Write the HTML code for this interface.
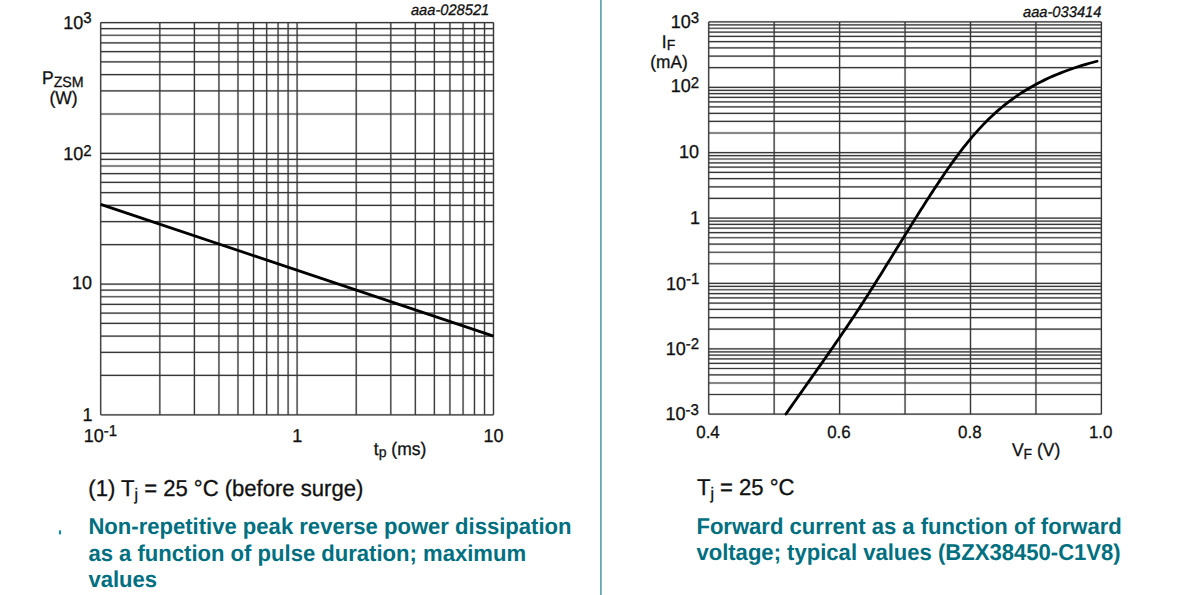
<!DOCTYPE html>
<html lang="en"><head><meta charset="utf-8"><title>Graphs</title>
<style>
html,body{margin:0;padding:0;background:#fff;}
body{width:1200px;height:595px;position:relative;overflow:hidden;font-family:"Liberation Sans",Arial,sans-serif;}
svg{position:absolute;left:0;top:0;display:block;}
</style></head><body>
<svg text-rendering="geometricPrecision" width="1200" height="595" viewBox="0 0 1200 595">
<g fill="none">
<line x1="100.70" y1="22.60" x2="100.70" y2="414.80" stroke="#383838" stroke-opacity="0.2" stroke-width="2.3"/>
<line x1="100.70" y1="22.60" x2="100.70" y2="414.80" stroke="#383838" stroke-width="1.2"/>
<line x1="159.82" y1="22.60" x2="159.82" y2="414.80" stroke="#383838" stroke-opacity="0.2" stroke-width="2.3"/>
<line x1="159.82" y1="22.60" x2="159.82" y2="414.80" stroke="#383838" stroke-width="1.2"/>
<line x1="194.41" y1="22.60" x2="194.41" y2="414.80" stroke="#383838" stroke-opacity="0.2" stroke-width="2.3"/>
<line x1="194.41" y1="22.60" x2="194.41" y2="414.80" stroke="#383838" stroke-width="1.2"/>
<line x1="218.94" y1="22.60" x2="218.94" y2="414.80" stroke="#383838" stroke-opacity="0.2" stroke-width="2.3"/>
<line x1="218.94" y1="22.60" x2="218.94" y2="414.80" stroke="#383838" stroke-width="1.2"/>
<line x1="237.98" y1="22.60" x2="237.98" y2="414.80" stroke="#383838" stroke-opacity="0.2" stroke-width="2.3"/>
<line x1="237.98" y1="22.60" x2="237.98" y2="414.80" stroke="#383838" stroke-width="1.2"/>
<line x1="253.53" y1="22.60" x2="253.53" y2="414.80" stroke="#383838" stroke-opacity="0.2" stroke-width="2.3"/>
<line x1="253.53" y1="22.60" x2="253.53" y2="414.80" stroke="#383838" stroke-width="1.2"/>
<line x1="266.68" y1="22.60" x2="266.68" y2="414.80" stroke="#383838" stroke-opacity="0.2" stroke-width="2.3"/>
<line x1="266.68" y1="22.60" x2="266.68" y2="414.80" stroke="#383838" stroke-width="1.2"/>
<line x1="278.07" y1="22.60" x2="278.07" y2="414.80" stroke="#383838" stroke-opacity="0.2" stroke-width="2.3"/>
<line x1="278.07" y1="22.60" x2="278.07" y2="414.80" stroke="#383838" stroke-width="1.2"/>
<line x1="288.11" y1="22.60" x2="288.11" y2="414.80" stroke="#383838" stroke-opacity="0.2" stroke-width="2.3"/>
<line x1="288.11" y1="22.60" x2="288.11" y2="414.80" stroke="#383838" stroke-width="1.2"/>
<line x1="297.10" y1="22.60" x2="297.10" y2="414.80" stroke="#383838" stroke-opacity="0.2" stroke-width="2.3"/>
<line x1="297.10" y1="22.60" x2="297.10" y2="414.80" stroke="#383838" stroke-width="1.2"/>
<line x1="356.22" y1="22.60" x2="356.22" y2="414.80" stroke="#383838" stroke-opacity="0.2" stroke-width="2.3"/>
<line x1="356.22" y1="22.60" x2="356.22" y2="414.80" stroke="#383838" stroke-width="1.2"/>
<line x1="390.81" y1="22.60" x2="390.81" y2="414.80" stroke="#383838" stroke-opacity="0.2" stroke-width="2.3"/>
<line x1="390.81" y1="22.60" x2="390.81" y2="414.80" stroke="#383838" stroke-width="1.2"/>
<line x1="415.34" y1="22.60" x2="415.34" y2="414.80" stroke="#383838" stroke-opacity="0.2" stroke-width="2.3"/>
<line x1="415.34" y1="22.60" x2="415.34" y2="414.80" stroke="#383838" stroke-width="1.2"/>
<line x1="434.38" y1="22.60" x2="434.38" y2="414.80" stroke="#383838" stroke-opacity="0.2" stroke-width="2.3"/>
<line x1="434.38" y1="22.60" x2="434.38" y2="414.80" stroke="#383838" stroke-width="1.2"/>
<line x1="449.93" y1="22.60" x2="449.93" y2="414.80" stroke="#383838" stroke-opacity="0.2" stroke-width="2.3"/>
<line x1="449.93" y1="22.60" x2="449.93" y2="414.80" stroke="#383838" stroke-width="1.2"/>
<line x1="463.08" y1="22.60" x2="463.08" y2="414.80" stroke="#383838" stroke-opacity="0.2" stroke-width="2.3"/>
<line x1="463.08" y1="22.60" x2="463.08" y2="414.80" stroke="#383838" stroke-width="1.2"/>
<line x1="474.47" y1="22.60" x2="474.47" y2="414.80" stroke="#383838" stroke-opacity="0.2" stroke-width="2.3"/>
<line x1="474.47" y1="22.60" x2="474.47" y2="414.80" stroke="#383838" stroke-width="1.2"/>
<line x1="484.51" y1="22.60" x2="484.51" y2="414.80" stroke="#383838" stroke-opacity="0.2" stroke-width="2.3"/>
<line x1="484.51" y1="22.60" x2="484.51" y2="414.80" stroke="#383838" stroke-width="1.2"/>
<line x1="493.50" y1="22.60" x2="493.50" y2="414.80" stroke="#383838" stroke-opacity="0.2" stroke-width="2.3"/>
<line x1="493.50" y1="22.60" x2="493.50" y2="414.80" stroke="#383838" stroke-width="1.2"/>
<line x1="100.70" y1="414.80" x2="493.50" y2="414.80" stroke="#383838" stroke-opacity="0.2" stroke-width="2.3"/>
<line x1="100.70" y1="414.80" x2="493.50" y2="414.80" stroke="#383838" stroke-width="1.2"/>
<line x1="100.70" y1="375.45" x2="493.50" y2="375.45" stroke="#383838" stroke-opacity="0.2" stroke-width="2.3"/>
<line x1="100.70" y1="375.45" x2="493.50" y2="375.45" stroke="#383838" stroke-width="1.2"/>
<line x1="100.70" y1="352.42" x2="493.50" y2="352.42" stroke="#383838" stroke-opacity="0.2" stroke-width="2.3"/>
<line x1="100.70" y1="352.42" x2="493.50" y2="352.42" stroke="#383838" stroke-width="1.2"/>
<line x1="100.70" y1="336.09" x2="493.50" y2="336.09" stroke="#383838" stroke-opacity="0.2" stroke-width="2.3"/>
<line x1="100.70" y1="336.09" x2="493.50" y2="336.09" stroke="#383838" stroke-width="1.2"/>
<line x1="100.70" y1="323.42" x2="493.50" y2="323.42" stroke="#383838" stroke-opacity="0.2" stroke-width="2.3"/>
<line x1="100.70" y1="323.42" x2="493.50" y2="323.42" stroke="#383838" stroke-width="1.2"/>
<line x1="100.70" y1="313.07" x2="493.50" y2="313.07" stroke="#383838" stroke-opacity="0.2" stroke-width="2.3"/>
<line x1="100.70" y1="313.07" x2="493.50" y2="313.07" stroke="#383838" stroke-width="1.2"/>
<line x1="100.70" y1="304.32" x2="493.50" y2="304.32" stroke="#383838" stroke-opacity="0.2" stroke-width="2.3"/>
<line x1="100.70" y1="304.32" x2="493.50" y2="304.32" stroke="#383838" stroke-width="1.2"/>
<line x1="100.70" y1="296.74" x2="493.50" y2="296.74" stroke="#383838" stroke-opacity="0.2" stroke-width="2.3"/>
<line x1="100.70" y1="296.74" x2="493.50" y2="296.74" stroke="#383838" stroke-width="1.2"/>
<line x1="100.70" y1="290.05" x2="493.50" y2="290.05" stroke="#383838" stroke-opacity="0.2" stroke-width="2.3"/>
<line x1="100.70" y1="290.05" x2="493.50" y2="290.05" stroke="#383838" stroke-width="1.2"/>
<line x1="100.70" y1="284.07" x2="493.50" y2="284.07" stroke="#383838" stroke-opacity="0.2" stroke-width="2.3"/>
<line x1="100.70" y1="284.07" x2="493.50" y2="284.07" stroke="#383838" stroke-width="1.2"/>
<line x1="100.70" y1="244.71" x2="493.50" y2="244.71" stroke="#383838" stroke-opacity="0.2" stroke-width="2.3"/>
<line x1="100.70" y1="244.71" x2="493.50" y2="244.71" stroke="#383838" stroke-width="1.2"/>
<line x1="100.70" y1="221.69" x2="493.50" y2="221.69" stroke="#383838" stroke-opacity="0.2" stroke-width="2.3"/>
<line x1="100.70" y1="221.69" x2="493.50" y2="221.69" stroke="#383838" stroke-width="1.2"/>
<line x1="100.70" y1="205.36" x2="493.50" y2="205.36" stroke="#383838" stroke-opacity="0.2" stroke-width="2.3"/>
<line x1="100.70" y1="205.36" x2="493.50" y2="205.36" stroke="#383838" stroke-width="1.2"/>
<line x1="100.70" y1="192.69" x2="493.50" y2="192.69" stroke="#383838" stroke-opacity="0.2" stroke-width="2.3"/>
<line x1="100.70" y1="192.69" x2="493.50" y2="192.69" stroke="#383838" stroke-width="1.2"/>
<line x1="100.70" y1="182.34" x2="493.50" y2="182.34" stroke="#383838" stroke-opacity="0.2" stroke-width="2.3"/>
<line x1="100.70" y1="182.34" x2="493.50" y2="182.34" stroke="#383838" stroke-width="1.2"/>
<line x1="100.70" y1="173.58" x2="493.50" y2="173.58" stroke="#383838" stroke-opacity="0.2" stroke-width="2.3"/>
<line x1="100.70" y1="173.58" x2="493.50" y2="173.58" stroke="#383838" stroke-width="1.2"/>
<line x1="100.70" y1="166.00" x2="493.50" y2="166.00" stroke="#383838" stroke-opacity="0.2" stroke-width="2.3"/>
<line x1="100.70" y1="166.00" x2="493.50" y2="166.00" stroke="#383838" stroke-width="1.2"/>
<line x1="100.70" y1="159.32" x2="493.50" y2="159.32" stroke="#383838" stroke-opacity="0.2" stroke-width="2.3"/>
<line x1="100.70" y1="159.32" x2="493.50" y2="159.32" stroke="#383838" stroke-width="1.2"/>
<line x1="100.70" y1="153.33" x2="493.50" y2="153.33" stroke="#383838" stroke-opacity="0.2" stroke-width="2.3"/>
<line x1="100.70" y1="153.33" x2="493.50" y2="153.33" stroke="#383838" stroke-width="1.2"/>
<line x1="100.70" y1="113.98" x2="493.50" y2="113.98" stroke="#383838" stroke-opacity="0.2" stroke-width="2.3"/>
<line x1="100.70" y1="113.98" x2="493.50" y2="113.98" stroke="#383838" stroke-width="1.2"/>
<line x1="100.70" y1="90.96" x2="493.50" y2="90.96" stroke="#383838" stroke-opacity="0.2" stroke-width="2.3"/>
<line x1="100.70" y1="90.96" x2="493.50" y2="90.96" stroke="#383838" stroke-width="1.2"/>
<line x1="100.70" y1="74.62" x2="493.50" y2="74.62" stroke="#383838" stroke-opacity="0.2" stroke-width="2.3"/>
<line x1="100.70" y1="74.62" x2="493.50" y2="74.62" stroke="#383838" stroke-width="1.2"/>
<line x1="100.70" y1="61.95" x2="493.50" y2="61.95" stroke="#383838" stroke-opacity="0.2" stroke-width="2.3"/>
<line x1="100.70" y1="61.95" x2="493.50" y2="61.95" stroke="#383838" stroke-width="1.2"/>
<line x1="100.70" y1="51.60" x2="493.50" y2="51.60" stroke="#383838" stroke-opacity="0.2" stroke-width="2.3"/>
<line x1="100.70" y1="51.60" x2="493.50" y2="51.60" stroke="#383838" stroke-width="1.2"/>
<line x1="100.70" y1="42.85" x2="493.50" y2="42.85" stroke="#383838" stroke-opacity="0.2" stroke-width="2.3"/>
<line x1="100.70" y1="42.85" x2="493.50" y2="42.85" stroke="#383838" stroke-width="1.2"/>
<line x1="100.70" y1="35.27" x2="493.50" y2="35.27" stroke="#383838" stroke-opacity="0.2" stroke-width="2.3"/>
<line x1="100.70" y1="35.27" x2="493.50" y2="35.27" stroke="#383838" stroke-width="1.2"/>
<line x1="100.70" y1="28.58" x2="493.50" y2="28.58" stroke="#383838" stroke-opacity="0.2" stroke-width="2.3"/>
<line x1="100.70" y1="28.58" x2="493.50" y2="28.58" stroke="#383838" stroke-width="1.2"/>
<line x1="100.70" y1="22.60" x2="493.50" y2="22.60" stroke="#383838" stroke-opacity="0.2" stroke-width="2.3"/>
<line x1="100.70" y1="22.60" x2="493.50" y2="22.60" stroke="#383838" stroke-width="1.2"/>
</g>
<line x1="100.70" y1="204.30" x2="493.50" y2="336.10" stroke="#000" stroke-width="2.8"/>
<g fill="none">
<line x1="708.70" y1="21.90" x2="708.70" y2="414.20" stroke="#383838" stroke-opacity="0.2" stroke-width="2.3"/>
<line x1="708.70" y1="21.90" x2="708.70" y2="414.20" stroke="#383838" stroke-width="1.2"/>
<line x1="774.15" y1="21.90" x2="774.15" y2="414.20" stroke="#383838" stroke-opacity="0.2" stroke-width="2.3"/>
<line x1="774.15" y1="21.90" x2="774.15" y2="414.20" stroke="#383838" stroke-width="1.2"/>
<line x1="839.60" y1="21.90" x2="839.60" y2="414.20" stroke="#383838" stroke-opacity="0.2" stroke-width="2.3"/>
<line x1="839.60" y1="21.90" x2="839.60" y2="414.20" stroke="#383838" stroke-width="1.2"/>
<line x1="905.05" y1="21.90" x2="905.05" y2="414.20" stroke="#383838" stroke-opacity="0.2" stroke-width="2.3"/>
<line x1="905.05" y1="21.90" x2="905.05" y2="414.20" stroke="#383838" stroke-width="1.2"/>
<line x1="970.50" y1="21.90" x2="970.50" y2="414.20" stroke="#383838" stroke-opacity="0.2" stroke-width="2.3"/>
<line x1="970.50" y1="21.90" x2="970.50" y2="414.20" stroke="#383838" stroke-width="1.2"/>
<line x1="1035.95" y1="21.90" x2="1035.95" y2="414.20" stroke="#383838" stroke-opacity="0.2" stroke-width="2.3"/>
<line x1="1035.95" y1="21.90" x2="1035.95" y2="414.20" stroke="#383838" stroke-width="1.2"/>
<line x1="1101.40" y1="21.90" x2="1101.40" y2="414.20" stroke="#383838" stroke-opacity="0.2" stroke-width="2.3"/>
<line x1="1101.40" y1="21.90" x2="1101.40" y2="414.20" stroke="#383838" stroke-width="1.2"/>
<line x1="708.70" y1="414.20" x2="1101.40" y2="414.20" stroke="#383838" stroke-opacity="0.2" stroke-width="2.3"/>
<line x1="708.70" y1="414.20" x2="1101.40" y2="414.20" stroke="#383838" stroke-width="1.2"/>
<line x1="708.70" y1="394.52" x2="1101.40" y2="394.52" stroke="#383838" stroke-opacity="0.2" stroke-width="2.3"/>
<line x1="708.70" y1="394.52" x2="1101.40" y2="394.52" stroke="#383838" stroke-width="1.2"/>
<line x1="708.70" y1="383.00" x2="1101.40" y2="383.00" stroke="#383838" stroke-opacity="0.2" stroke-width="2.3"/>
<line x1="708.70" y1="383.00" x2="1101.40" y2="383.00" stroke="#383838" stroke-width="1.2"/>
<line x1="708.70" y1="374.84" x2="1101.40" y2="374.84" stroke="#383838" stroke-opacity="0.2" stroke-width="2.3"/>
<line x1="708.70" y1="374.84" x2="1101.40" y2="374.84" stroke="#383838" stroke-width="1.2"/>
<line x1="708.70" y1="368.50" x2="1101.40" y2="368.50" stroke="#383838" stroke-opacity="0.2" stroke-width="2.3"/>
<line x1="708.70" y1="368.50" x2="1101.40" y2="368.50" stroke="#383838" stroke-width="1.2"/>
<line x1="708.70" y1="363.32" x2="1101.40" y2="363.32" stroke="#383838" stroke-opacity="0.2" stroke-width="2.3"/>
<line x1="708.70" y1="363.32" x2="1101.40" y2="363.32" stroke="#383838" stroke-width="1.2"/>
<line x1="708.70" y1="358.94" x2="1101.40" y2="358.94" stroke="#383838" stroke-opacity="0.2" stroke-width="2.3"/>
<line x1="708.70" y1="358.94" x2="1101.40" y2="358.94" stroke="#383838" stroke-width="1.2"/>
<line x1="708.70" y1="355.15" x2="1101.40" y2="355.15" stroke="#383838" stroke-opacity="0.2" stroke-width="2.3"/>
<line x1="708.70" y1="355.15" x2="1101.40" y2="355.15" stroke="#383838" stroke-width="1.2"/>
<line x1="708.70" y1="351.81" x2="1101.40" y2="351.81" stroke="#383838" stroke-opacity="0.2" stroke-width="2.3"/>
<line x1="708.70" y1="351.81" x2="1101.40" y2="351.81" stroke="#383838" stroke-width="1.2"/>
<line x1="708.70" y1="348.82" x2="1101.40" y2="348.82" stroke="#383838" stroke-opacity="0.2" stroke-width="2.3"/>
<line x1="708.70" y1="348.82" x2="1101.40" y2="348.82" stroke="#383838" stroke-width="1.2"/>
<line x1="708.70" y1="329.13" x2="1101.40" y2="329.13" stroke="#383838" stroke-opacity="0.2" stroke-width="2.3"/>
<line x1="708.70" y1="329.13" x2="1101.40" y2="329.13" stroke="#383838" stroke-width="1.2"/>
<line x1="708.70" y1="317.62" x2="1101.40" y2="317.62" stroke="#383838" stroke-opacity="0.2" stroke-width="2.3"/>
<line x1="708.70" y1="317.62" x2="1101.40" y2="317.62" stroke="#383838" stroke-width="1.2"/>
<line x1="708.70" y1="309.45" x2="1101.40" y2="309.45" stroke="#383838" stroke-opacity="0.2" stroke-width="2.3"/>
<line x1="708.70" y1="309.45" x2="1101.40" y2="309.45" stroke="#383838" stroke-width="1.2"/>
<line x1="708.70" y1="303.12" x2="1101.40" y2="303.12" stroke="#383838" stroke-opacity="0.2" stroke-width="2.3"/>
<line x1="708.70" y1="303.12" x2="1101.40" y2="303.12" stroke="#383838" stroke-width="1.2"/>
<line x1="708.70" y1="297.94" x2="1101.40" y2="297.94" stroke="#383838" stroke-opacity="0.2" stroke-width="2.3"/>
<line x1="708.70" y1="297.94" x2="1101.40" y2="297.94" stroke="#383838" stroke-width="1.2"/>
<line x1="708.70" y1="293.56" x2="1101.40" y2="293.56" stroke="#383838" stroke-opacity="0.2" stroke-width="2.3"/>
<line x1="708.70" y1="293.56" x2="1101.40" y2="293.56" stroke="#383838" stroke-width="1.2"/>
<line x1="708.70" y1="289.77" x2="1101.40" y2="289.77" stroke="#383838" stroke-opacity="0.2" stroke-width="2.3"/>
<line x1="708.70" y1="289.77" x2="1101.40" y2="289.77" stroke="#383838" stroke-width="1.2"/>
<line x1="708.70" y1="286.43" x2="1101.40" y2="286.43" stroke="#383838" stroke-opacity="0.2" stroke-width="2.3"/>
<line x1="708.70" y1="286.43" x2="1101.40" y2="286.43" stroke="#383838" stroke-width="1.2"/>
<line x1="708.70" y1="283.43" x2="1101.40" y2="283.43" stroke="#383838" stroke-opacity="0.2" stroke-width="2.3"/>
<line x1="708.70" y1="283.43" x2="1101.40" y2="283.43" stroke="#383838" stroke-width="1.2"/>
<line x1="708.70" y1="263.75" x2="1101.40" y2="263.75" stroke="#383838" stroke-opacity="0.2" stroke-width="2.3"/>
<line x1="708.70" y1="263.75" x2="1101.40" y2="263.75" stroke="#383838" stroke-width="1.2"/>
<line x1="708.70" y1="252.24" x2="1101.40" y2="252.24" stroke="#383838" stroke-opacity="0.2" stroke-width="2.3"/>
<line x1="708.70" y1="252.24" x2="1101.40" y2="252.24" stroke="#383838" stroke-width="1.2"/>
<line x1="708.70" y1="244.07" x2="1101.40" y2="244.07" stroke="#383838" stroke-opacity="0.2" stroke-width="2.3"/>
<line x1="708.70" y1="244.07" x2="1101.40" y2="244.07" stroke="#383838" stroke-width="1.2"/>
<line x1="708.70" y1="237.73" x2="1101.40" y2="237.73" stroke="#383838" stroke-opacity="0.2" stroke-width="2.3"/>
<line x1="708.70" y1="237.73" x2="1101.40" y2="237.73" stroke="#383838" stroke-width="1.2"/>
<line x1="708.70" y1="232.56" x2="1101.40" y2="232.56" stroke="#383838" stroke-opacity="0.2" stroke-width="2.3"/>
<line x1="708.70" y1="232.56" x2="1101.40" y2="232.56" stroke="#383838" stroke-width="1.2"/>
<line x1="708.70" y1="228.18" x2="1101.40" y2="228.18" stroke="#383838" stroke-opacity="0.2" stroke-width="2.3"/>
<line x1="708.70" y1="228.18" x2="1101.40" y2="228.18" stroke="#383838" stroke-width="1.2"/>
<line x1="708.70" y1="224.39" x2="1101.40" y2="224.39" stroke="#383838" stroke-opacity="0.2" stroke-width="2.3"/>
<line x1="708.70" y1="224.39" x2="1101.40" y2="224.39" stroke="#383838" stroke-width="1.2"/>
<line x1="708.70" y1="221.04" x2="1101.40" y2="221.04" stroke="#383838" stroke-opacity="0.2" stroke-width="2.3"/>
<line x1="708.70" y1="221.04" x2="1101.40" y2="221.04" stroke="#383838" stroke-width="1.2"/>
<line x1="708.70" y1="218.05" x2="1101.40" y2="218.05" stroke="#383838" stroke-opacity="0.2" stroke-width="2.3"/>
<line x1="708.70" y1="218.05" x2="1101.40" y2="218.05" stroke="#383838" stroke-width="1.2"/>
<line x1="708.70" y1="198.37" x2="1101.40" y2="198.37" stroke="#383838" stroke-opacity="0.2" stroke-width="2.3"/>
<line x1="708.70" y1="198.37" x2="1101.40" y2="198.37" stroke="#383838" stroke-width="1.2"/>
<line x1="708.70" y1="186.85" x2="1101.40" y2="186.85" stroke="#383838" stroke-opacity="0.2" stroke-width="2.3"/>
<line x1="708.70" y1="186.85" x2="1101.40" y2="186.85" stroke="#383838" stroke-width="1.2"/>
<line x1="708.70" y1="178.69" x2="1101.40" y2="178.69" stroke="#383838" stroke-opacity="0.2" stroke-width="2.3"/>
<line x1="708.70" y1="178.69" x2="1101.40" y2="178.69" stroke="#383838" stroke-width="1.2"/>
<line x1="708.70" y1="172.35" x2="1101.40" y2="172.35" stroke="#383838" stroke-opacity="0.2" stroke-width="2.3"/>
<line x1="708.70" y1="172.35" x2="1101.40" y2="172.35" stroke="#383838" stroke-width="1.2"/>
<line x1="708.70" y1="167.17" x2="1101.40" y2="167.17" stroke="#383838" stroke-opacity="0.2" stroke-width="2.3"/>
<line x1="708.70" y1="167.17" x2="1101.40" y2="167.17" stroke="#383838" stroke-width="1.2"/>
<line x1="708.70" y1="162.79" x2="1101.40" y2="162.79" stroke="#383838" stroke-opacity="0.2" stroke-width="2.3"/>
<line x1="708.70" y1="162.79" x2="1101.40" y2="162.79" stroke="#383838" stroke-width="1.2"/>
<line x1="708.70" y1="159.00" x2="1101.40" y2="159.00" stroke="#383838" stroke-opacity="0.2" stroke-width="2.3"/>
<line x1="708.70" y1="159.00" x2="1101.40" y2="159.00" stroke="#383838" stroke-width="1.2"/>
<line x1="708.70" y1="155.66" x2="1101.40" y2="155.66" stroke="#383838" stroke-opacity="0.2" stroke-width="2.3"/>
<line x1="708.70" y1="155.66" x2="1101.40" y2="155.66" stroke="#383838" stroke-width="1.2"/>
<line x1="708.70" y1="152.67" x2="1101.40" y2="152.67" stroke="#383838" stroke-opacity="0.2" stroke-width="2.3"/>
<line x1="708.70" y1="152.67" x2="1101.40" y2="152.67" stroke="#383838" stroke-width="1.2"/>
<line x1="708.70" y1="132.98" x2="1101.40" y2="132.98" stroke="#383838" stroke-opacity="0.2" stroke-width="2.3"/>
<line x1="708.70" y1="132.98" x2="1101.40" y2="132.98" stroke="#383838" stroke-width="1.2"/>
<line x1="708.70" y1="121.47" x2="1101.40" y2="121.47" stroke="#383838" stroke-opacity="0.2" stroke-width="2.3"/>
<line x1="708.70" y1="121.47" x2="1101.40" y2="121.47" stroke="#383838" stroke-width="1.2"/>
<line x1="708.70" y1="113.30" x2="1101.40" y2="113.30" stroke="#383838" stroke-opacity="0.2" stroke-width="2.3"/>
<line x1="708.70" y1="113.30" x2="1101.40" y2="113.30" stroke="#383838" stroke-width="1.2"/>
<line x1="708.70" y1="106.97" x2="1101.40" y2="106.97" stroke="#383838" stroke-opacity="0.2" stroke-width="2.3"/>
<line x1="708.70" y1="106.97" x2="1101.40" y2="106.97" stroke="#383838" stroke-width="1.2"/>
<line x1="708.70" y1="101.79" x2="1101.40" y2="101.79" stroke="#383838" stroke-opacity="0.2" stroke-width="2.3"/>
<line x1="708.70" y1="101.79" x2="1101.40" y2="101.79" stroke="#383838" stroke-width="1.2"/>
<line x1="708.70" y1="97.41" x2="1101.40" y2="97.41" stroke="#383838" stroke-opacity="0.2" stroke-width="2.3"/>
<line x1="708.70" y1="97.41" x2="1101.40" y2="97.41" stroke="#383838" stroke-width="1.2"/>
<line x1="708.70" y1="93.62" x2="1101.40" y2="93.62" stroke="#383838" stroke-opacity="0.2" stroke-width="2.3"/>
<line x1="708.70" y1="93.62" x2="1101.40" y2="93.62" stroke="#383838" stroke-width="1.2"/>
<line x1="708.70" y1="90.28" x2="1101.40" y2="90.28" stroke="#383838" stroke-opacity="0.2" stroke-width="2.3"/>
<line x1="708.70" y1="90.28" x2="1101.40" y2="90.28" stroke="#383838" stroke-width="1.2"/>
<line x1="708.70" y1="87.28" x2="1101.40" y2="87.28" stroke="#383838" stroke-opacity="0.2" stroke-width="2.3"/>
<line x1="708.70" y1="87.28" x2="1101.40" y2="87.28" stroke="#383838" stroke-width="1.2"/>
<line x1="708.70" y1="67.60" x2="1101.40" y2="67.60" stroke="#383838" stroke-opacity="0.2" stroke-width="2.3"/>
<line x1="708.70" y1="67.60" x2="1101.40" y2="67.60" stroke="#383838" stroke-width="1.2"/>
<line x1="708.70" y1="56.09" x2="1101.40" y2="56.09" stroke="#383838" stroke-opacity="0.2" stroke-width="2.3"/>
<line x1="708.70" y1="56.09" x2="1101.40" y2="56.09" stroke="#383838" stroke-width="1.2"/>
<line x1="708.70" y1="47.92" x2="1101.40" y2="47.92" stroke="#383838" stroke-opacity="0.2" stroke-width="2.3"/>
<line x1="708.70" y1="47.92" x2="1101.40" y2="47.92" stroke="#383838" stroke-width="1.2"/>
<line x1="708.70" y1="41.58" x2="1101.40" y2="41.58" stroke="#383838" stroke-opacity="0.2" stroke-width="2.3"/>
<line x1="708.70" y1="41.58" x2="1101.40" y2="41.58" stroke="#383838" stroke-width="1.2"/>
<line x1="708.70" y1="36.41" x2="1101.40" y2="36.41" stroke="#383838" stroke-opacity="0.2" stroke-width="2.3"/>
<line x1="708.70" y1="36.41" x2="1101.40" y2="36.41" stroke="#383838" stroke-width="1.2"/>
<line x1="708.70" y1="32.03" x2="1101.40" y2="32.03" stroke="#383838" stroke-opacity="0.2" stroke-width="2.3"/>
<line x1="708.70" y1="32.03" x2="1101.40" y2="32.03" stroke="#383838" stroke-width="1.2"/>
<line x1="708.70" y1="28.24" x2="1101.40" y2="28.24" stroke="#383838" stroke-opacity="0.2" stroke-width="2.3"/>
<line x1="708.70" y1="28.24" x2="1101.40" y2="28.24" stroke="#383838" stroke-width="1.2"/>
<line x1="708.70" y1="24.89" x2="1101.40" y2="24.89" stroke="#383838" stroke-opacity="0.2" stroke-width="2.3"/>
<line x1="708.70" y1="24.89" x2="1101.40" y2="24.89" stroke="#383838" stroke-width="1.2"/>
<line x1="708.70" y1="21.90" x2="1101.40" y2="21.90" stroke="#383838" stroke-opacity="0.2" stroke-width="2.3"/>
<line x1="708.70" y1="21.90" x2="1101.40" y2="21.90" stroke="#383838" stroke-width="1.2"/>
</g>
<path d="M785.92 414.02 L787.88 411.21 L789.85 408.40 L791.82 405.59 L793.79 402.78 L795.76 399.98 L797.73 397.17 L799.71 394.37 L801.68 391.57 L803.66 388.77 L805.64 385.97 L807.61 383.17 L809.59 380.37 L811.57 377.58 L813.54 374.78 L815.52 371.97 L817.49 369.17 L819.47 366.37 L821.44 363.57 L823.41 360.76 L825.38 357.95 L827.34 355.14 L829.30 352.33 L831.26 349.51 L833.22 346.69 L835.18 343.87 L837.13 341.04 L839.07 338.21 L841.01 335.38 L842.95 332.54 L844.89 329.70 L846.82 326.85 L848.74 324.00 L850.66 321.14 L852.57 318.28 L854.48 315.41 L856.38 312.53 L858.27 309.65 L860.16 306.76 L862.04 303.87 L863.92 300.97 L865.79 298.06 L867.65 295.15 L869.51 292.23 L871.37 289.31 L873.22 286.39 L875.06 283.46 L876.91 280.52 L878.75 277.59 L880.58 274.65 L882.42 271.70 L884.25 268.76 L886.08 265.81 L887.90 262.86 L889.73 259.91 L891.55 256.96 L893.38 254.01 L895.20 251.05 L897.02 248.10 L898.85 245.15 L900.67 242.20 L902.50 239.24 L904.32 236.29 L906.15 233.34 L907.98 230.40 L909.81 227.45 L911.64 224.51 L913.48 221.57 L915.32 218.63 L917.16 215.70 L919.00 212.77 L920.85 209.84 L922.71 206.92 L924.57 204.00 L926.43 201.09 L928.30 198.18 L930.17 195.28 L932.06 192.38 L933.94 189.49 L935.84 186.61 L937.74 183.74 L939.64 180.87 L941.56 178.01 L943.49 175.16 L945.43 172.32 L947.38 169.50 L949.34 166.69 L951.32 163.89 L953.32 161.11 L955.33 158.34 L957.36 155.59 L959.40 152.87 L961.47 150.16 L963.56 147.47 L965.67 144.80 L967.80 142.16 L969.96 139.54 L972.15 136.95 L974.36 134.38 L976.59 131.84 L978.86 129.33 L981.15 126.85 L983.48 124.40 L985.84 121.98 L988.23 119.60 L990.65 117.24 L993.11 114.93 L995.61 112.65 L998.14 110.40 L1000.71 108.20 L1003.32 106.03 L1005.97 103.91 L1008.67 101.82 L1011.40 99.78 L1014.18 97.79 L1017.00 95.83 L1019.86 93.92 L1022.77 92.05 L1025.72 90.22 L1028.71 88.44 L1031.74 86.69 L1034.82 84.99 L1037.93 83.33 L1041.09 81.71 L1044.29 80.13 L1047.53 78.60 L1050.81 77.10 L1054.13 75.64 L1057.49 74.23 L1060.89 72.85 L1064.33 71.52 L1067.81 70.22 L1071.33 68.96 L1074.89 67.75 L1078.49 66.57 L1082.12 65.43 L1085.80 64.33 L1089.51 63.26 L1093.26 62.24 L1097.05 61.25" fill="none" stroke="#000" stroke-width="2.8" stroke-linecap="round" stroke-linejoin="round"/>
<line x1="600.9" y1="0" x2="600.9" y2="595" stroke="#5fa2b3" stroke-width="1.7"/>
<rect x="58.9" y="530.4" width="2.2" height="4" fill="#1a8aa0"/>
<g font-family="Liberation Sans, Arial, sans-serif" fill="#111" stroke="#111" stroke-width="0.3">
<text transform="translate(91.60 28.70) scale(1 1.04)" font-size="18.0" text-anchor="end" >10<tspan font-size="15" dy="-5.48">3</tspan></text>
<text transform="translate(91.60 160.40) scale(1 1.04)" font-size="18.0" text-anchor="end" >10<tspan font-size="15" dy="-4.62">2</tspan></text>
<text transform="translate(92.00 288.70) scale(1 1.04)" font-size="18.0" text-anchor="end" >10</text>
<text transform="translate(92.40 421.20) scale(1 1.04)" font-size="18.0" text-anchor="end" >1</text>
<text transform="translate(42.00 83.50) scale(1 1.04)" font-size="17.5" text-anchor="start" >P<tspan font-size="14.2" dy="3.0">ZSM</tspan></text>
<text transform="translate(63.60 103.80) scale(1 1.04)" font-size="17.5" text-anchor="middle" >(W)</text>
<text transform="translate(100.40 441.70) scale(1 1.04)" font-size="18.0" text-anchor="middle" >10<tspan font-size="15" dy="-5.48">-1</tspan></text>
<text transform="translate(297.30 441.90) scale(1 1.04)" font-size="18.0" text-anchor="middle" >1</text>
<text transform="translate(493.40 442.10) scale(1 1.04)" font-size="18.0" text-anchor="middle" >10</text>
<text transform="translate(373.80 454.80) scale(1 1.04)" font-size="17.5" text-anchor="start" >t<tspan font-size="14" dy="2.4">p</tspan><tspan dy="-2.4"> (ms)</tspan></text>
<text transform="translate(489.30 15.00) scale(1 1.04)" font-size="14.7" text-anchor="end" font-style="italic">aaa-028521</text>
<text transform="translate(1101.40 16.50) scale(1 1.04)" font-size="14.7" text-anchor="end" font-style="italic">aaa-033414</text>
<text transform="translate(699.00 27.60) scale(1 1.04)" font-size="18.0" text-anchor="end" >10<tspan font-size="15" dy="-4.81">3</tspan></text>
<text transform="translate(699.00 92.30) scale(1 1.04)" font-size="18.0" text-anchor="end" >10<tspan font-size="15" dy="-4.62">2</tspan></text>
<text transform="translate(699.10 157.70) scale(1 1.04)" font-size="18.0" text-anchor="end" >10</text>
<text transform="translate(699.90 224.00) scale(1 1.04)" font-size="18.0" text-anchor="end" >1</text>
<text transform="translate(699.30 289.60) scale(1 1.04)" font-size="18.0" text-anchor="end" >10<tspan font-size="15" dy="-5.48">-1</tspan></text>
<text transform="translate(699.00 354.90) scale(1 1.04)" font-size="18.0" text-anchor="end" >10<tspan font-size="15" dy="-5.58">-2</tspan></text>
<text transform="translate(698.80 419.80) scale(1 1.04)" font-size="18.0" text-anchor="end" >10<tspan font-size="15" dy="-4.71">-3</tspan></text>
<text transform="translate(661.80 47.50) scale(1 1.04)" font-size="17.5" text-anchor="start" >I<tspan font-size="14" dy="2.7">F</tspan></text>
<text transform="translate(669.00 67.60) scale(1 1.04)" font-size="17.3" text-anchor="middle" >(mA)</text>
<text transform="translate(708.00 437.60) scale(1 1.04)" font-size="16.9" text-anchor="middle" >0.4</text>
<text transform="translate(838.90 437.60) scale(1 1.04)" font-size="16.9" text-anchor="middle" >0.6</text>
<text transform="translate(969.80 437.60) scale(1 1.04)" font-size="16.9" text-anchor="middle" >0.8</text>
<text transform="translate(1100.70 437.60) scale(1 1.04)" font-size="16.9" text-anchor="middle" >1.0</text>
<text transform="translate(1011.90 455.50) scale(1 1.04)" font-size="17.5" text-anchor="start" >V<tspan font-size="14" dy="3.1">F</tspan><tspan dy="-3.1"> (V)</tspan></text>
<text transform="translate(88.30 495.70) scale(1 1.04)" font-size="22.07" text-anchor="start" >(1) T<tspan font-size="16" dy="4.6">j</tspan><tspan dy="-4.6"> = 25 °C (before surge)</tspan></text>
<text transform="translate(696.90 494.60) scale(1 1.04)" font-size="22.07" text-anchor="start" >T<tspan font-size="16" dy="4.6">j</tspan><tspan dy="-4.6"> = 25 °C</tspan></text>
</g>
<g font-family="Liberation Sans, Arial, sans-serif" font-weight="bold" fill="#006f80">
<text transform="translate(88.40 533.90) scale(1 1.04)" font-size="22.07" text-anchor="start" >Non-repetitive peak reverse power dissipation</text>
<text transform="translate(88.40 560.70) scale(1 1.04)" font-size="22.07" text-anchor="start" >as a function of pulse duration; maximum</text>
<text transform="translate(88.40 586.80) scale(1 1.04)" font-size="22.07" text-anchor="start" >values</text>
<text transform="translate(696.40 533.90) scale(1 1.04)" font-size="22.07" text-anchor="start" >Forward current as a function of forward</text>
<text transform="translate(696.40 559.90) scale(1 1.04)" font-size="22.07" text-anchor="start" >voltage; typical values (BZX38450-C1V8)</text>
</g>
</svg>
</body></html>
